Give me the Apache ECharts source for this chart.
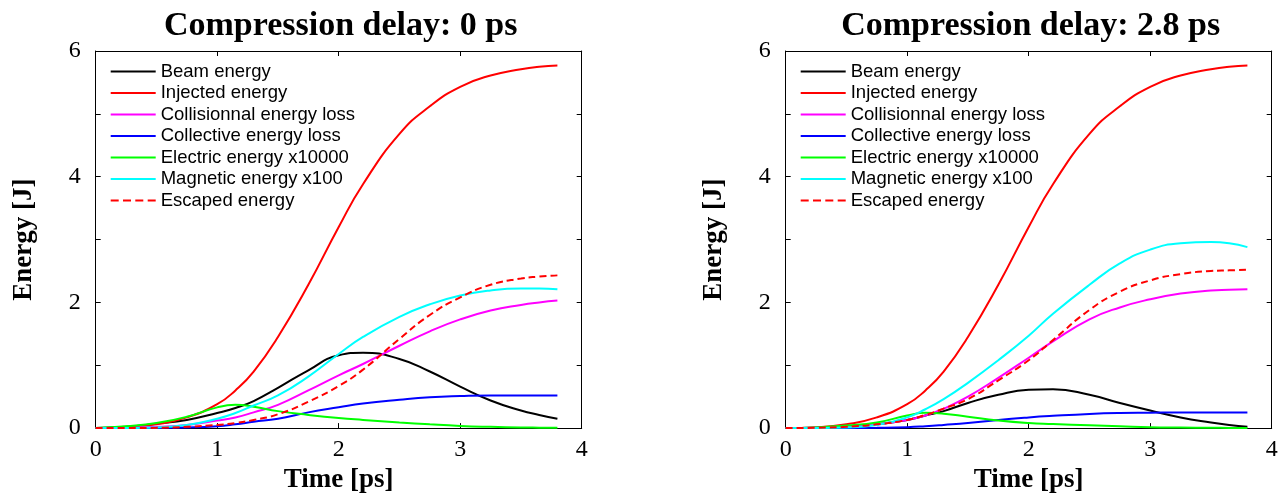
<!DOCTYPE html>
<html>
<head>
<meta charset="utf-8">
<script src="https://cdn.jsdelivr.net/npm/echarts@6/dist/echarts.min.js"></script>
<style>
html,body{margin:0;padding:0;background:#fff;}
#chart{width:1288px;height:499px;}
</style>
</head>
<body>
<div id="chart"></div>
<script>
// ---- data ----
const titles = ['Compression delay: 0 ps', 'Compression delay: 2.8 ps'];
const seriesNames = ['Beam energy', 'Injected energy', 'Collisionnal energy loss', 'Collective energy loss', 'Electric energy x10000', 'Magnetic energy x100', 'Escaped energy'];
const xTicks = [0, 1, 2, 3, 4];
const yTicks = [0, 2, 4, 6];
const time = [0, 0.25, 0.5, 0.75, 1.0, 1.15, 1.3, 1.5, 1.75, 2.0, 2.2, 2.5, 2.75, 3.0, 3.25, 3.5, 3.65, 3.8];

// Delay 0 ps
const beam0        = [0, 0.02, 0.07, 0.13, 0.24, 0.32, 0.43, 0.64, 0.92, 1.16, 1.20, 1.10, 0.90, 0.66, 0.44, 0.28, 0.21, 0.15];
const injected0    = [0, 0.01, 0.06, 0.17, 0.38, 0.60, 0.90, 1.45, 2.28, 3.20, 3.88, 4.68, 5.12, 5.43, 5.61, 5.71, 5.75, 5.77];
const collisional0 = [0, 0.005, 0.02, 0.05, 0.12, 0.17, 0.25, 0.37, 0.60, 0.84, 1.02, 1.31, 1.54, 1.73, 1.87, 1.96, 2.00, 2.03];
const collective0  = [0, 0.001, 0.003, 0.01, 0.03, 0.06, 0.10, 0.15, 0.25, 0.33, 0.39, 0.45, 0.49, 0.51, 0.52, 0.52, 0.52, 0.52];
const electric0    = [0, 0.03, 0.08, 0.18, 0.33, 0.37, 0.34, 0.27, 0.21, 0.16, 0.13, 0.09, 0.06, 0.035, 0.02, 0.01, 0.007, 0.005];
const magnetic0    = [0, 0.002, 0.01, 0.05, 0.15, 0.24, 0.36, 0.52, 0.82, 1.18, 1.45, 1.77, 1.97, 2.11, 2.19, 2.22, 2.22, 2.21];
const escaped0     = [0, 0.001, 0.005, 0.02, 0.05, 0.08, 0.13, 0.22, 0.42, 0.67, 0.93, 1.42, 1.80, 2.08, 2.28, 2.38, 2.41, 2.43];

// Delay 2.8 ps
const beam28        = [0, 0.005, 0.02, 0.06, 0.13, 0.20, 0.27, 0.40, 0.53, 0.61, 0.62, 0.53, 0.40, 0.28, 0.17, 0.09, 0.05, 0.02];
const injected28    = [0, 0.01, 0.06, 0.17, 0.38, 0.60, 0.90, 1.45, 2.28, 3.20, 3.88, 4.68, 5.12, 5.43, 5.61, 5.71, 5.75, 5.77];
const collisional28 = [0, 0.005, 0.02, 0.06, 0.13, 0.20, 0.31, 0.50, 0.80, 1.12, 1.38, 1.73, 1.92, 2.05, 2.14, 2.19, 2.20, 2.21];
const collective28  = [0, 0, 0.001, 0.005, 0.015, 0.03, 0.05, 0.08, 0.13, 0.17, 0.195, 0.225, 0.24, 0.245, 0.25, 0.25, 0.25, 0.25];
const electric28    = [0, 0.01, 0.04, 0.09, 0.20, 0.245, 0.23, 0.18, 0.12, 0.08, 0.065, 0.045, 0.03, 0.015, 0.01, 0.005, 0.003, 0.002];
const magnetic28    = [0, 0.002, 0.01, 0.05, 0.17, 0.30, 0.46, 0.72, 1.08, 1.47, 1.82, 2.28, 2.62, 2.84, 2.94, 2.96, 2.94, 2.88];
const escaped28     = [0, 0.005, 0.02, 0.06, 0.13, 0.21, 0.31, 0.46, 0.76, 1.08, 1.40, 1.88, 2.17, 2.35, 2.45, 2.50, 2.51, 2.52];

// ---- styling ----
const colors = ['#000000', '#ff0000', '#ff00ff', '#0000ff', '#00ff00', '#00ffff', '#ff0000'];
const dashed = [false, false, false, false, false, false, true];
const panels = [
  [beam0, injected0, collisional0, collective0, electric0, magnetic0, escaped0],
  [beam28, injected28, collisional28, collective28, electric28, magnetic28, escaped28]
];
const gridLefts = [95.7, 785.7];
const gridWidth = 486;
const gridTop = 51, gridBottom = 65.7;

const serif = 'Liberation Serif';
const sans = 'Liberation Sans';
const solidIcon = 'path://M0,0H45V2H0Z';
const dashIcon = 'path://M0,0H8V2H0Z M12.3,0H20.3V2H12.3Z M24.6,0H32.6V2H24.6Z M37,0H45V2H37Z';

const option = {
  animation: false,
  backgroundColor: '#ffffff',
  title: [], grid: [], xAxis: [], yAxis: [], legend: [], series: []
};

panels.forEach((vals, p) => {
  const left = gridLefts[p];
  option.title.push({
    text: titles[p],
    left: left + gridWidth / 2 - 3, top: 4, textAlign: 'center',
    textStyle: {fontFamily: serif, fontWeight: 'bold', fontSize: 34, color: '#000'}
  });
  option.grid.push({left: left, width: gridWidth, top: gridTop, bottom: gridBottom, containLabel: false});
  const xBase = {
    type: 'value', gridIndex: p, min: xTicks[0], max: xTicks[xTicks.length - 1], interval: 1,
    splitLine: {show: false},
    axisLine: {show: true, onZero: false, lineStyle: {color: '#000', width: 1}},
    axisTick: {show: true, inside: true, length: 5, lineStyle: {color: '#000'}}
  };
  option.xAxis.push(Object.assign({}, xBase, {
    position: 'bottom',
    name: 'Time [ps]', nameLocation: 'middle', nameGap: 38,
    nameTextStyle: {fontFamily: serif, fontWeight: 'bold', fontSize: 27, color: '#000'},
    axisLabel: {show: true, margin: 10, fontFamily: serif, fontSize: 24, color: '#000',
      formatter: v => xTicks.includes(v) ? String(v) : ''}
  }));
  option.xAxis.push(Object.assign({}, xBase, {position: 'top', axisLabel: {show: false}}));
  const yBase = {
    type: 'value', gridIndex: p, min: 0, max: yTicks[yTicks.length - 1], interval: 1,
    splitLine: {show: false},
    axisLine: {show: true, onZero: false, lineStyle: {color: '#000', width: 1}},
    axisTick: {show: true, inside: true, length: 5, lineStyle: {color: '#000'}}
  };
  option.yAxis.push(Object.assign({}, yBase, {
    position: 'left',
    name: 'Energy [J]', nameLocation: 'middle', nameGap: 58, nameRotate: 90,
    nameTextStyle: {fontFamily: serif, fontWeight: 'bold', fontSize: 27, color: '#000'},
    axisLabel: {show: true, margin: 15, fontFamily: serif, fontSize: 24, color: '#000',
      formatter: v => yTicks.includes(v) ? String(v) : ''}
  }));
  option.yAxis.push(Object.assign({}, yBase, {position: 'right', axisLabel: {show: false}}));

  const names = seriesNames.map(n => p === 0 ? n : n + ' ');
  option.legend.push({
    orient: 'vertical', left: left + 10, top: 57,
    itemWidth: 45, itemHeight: 16, itemGap: 2.5,
    data: names.map((n, i) => ({
      name: n,
      icon: dashed[i] ? dashIcon : solidIcon,
      itemStyle: {color: colors[i], borderWidth: 0}
    })),
    textStyle: {fontFamily: sans, fontSize: 18.5, color: '#000', lineHeight: 18},
    formatter: n => n.trim(),
    selectedMode: false
  });
  vals.forEach((arr, i) => {
    option.series.push({
      name: names[i], type: 'line',
      xAxisIndex: p * 2, yAxisIndex: p * 2,
      data: time.map((t, k) => [t, arr[k]]),
      showSymbol: false, symbol: 'none',
      smooth: 0.5,
      color: colors[i],
      lineStyle: {color: colors[i], width: 2, type: dashed[i] ? [7, 4] : 'solid'},
      z: 2 + i
    });
  });
});

const chart = echarts.init(document.getElementById('chart'), null, {renderer: 'canvas'});
chart.setOption(option);
</script>
</body>
</html>
